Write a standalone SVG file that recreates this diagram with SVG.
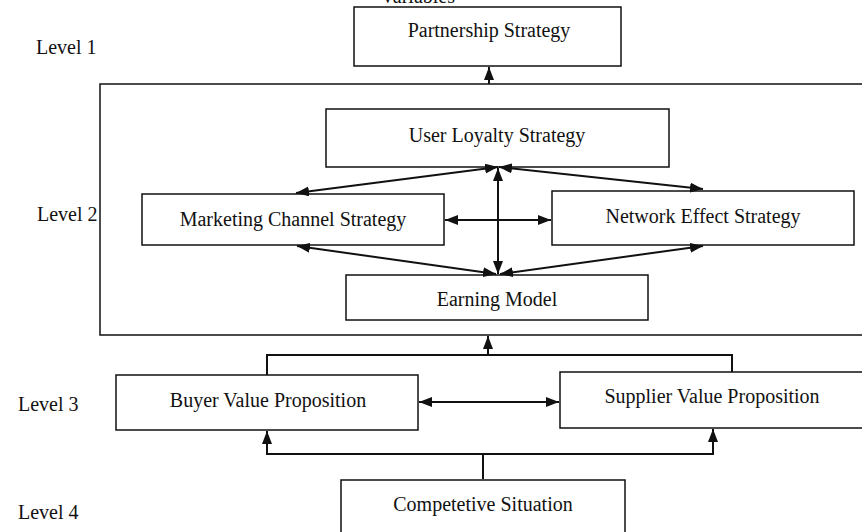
<svg xmlns="http://www.w3.org/2000/svg" width="862" height="532" viewBox="0 0 862 532">
<style>
text{font-family:"Liberation Serif","Times New Roman",serif;font-size:20px;fill:#111}
.box{fill:#fff;stroke:#111;stroke-width:1.5}
.c{fill:none;stroke:#111;stroke-width:2}
.m{text-anchor:middle}
</style>
<defs>
<marker id="ah" viewBox="0 0 13 10" refX="13" refY="5" markerWidth="13" markerHeight="10" markerUnits="userSpaceOnUse" orient="auto-start-reverse">
<path d="M0,0 L13,5 L0,10 z" fill="#111"/>
</marker>
</defs>
<rect width="862" height="532" fill="#fff"/>
<text x="455" y="3" text-anchor="end">Variables</text>
<g id="levels">
<text x="36" y="54">Level 1</text>
<text x="37" y="221">Level 2</text>
<text x="18" y="411">Level 3</text>
<text x="18" y="519">Level 4</text>
</g>
<g id="level2-frame"><rect class="box" x="100" y="84" width="790" height="251" fill="none"/></g>
<g id="partnership"><rect class="box" x="354" y="7" width="267" height="59"/><text class="m" x="489" y="37">Partnership Strategy</text></g>
<g id="loyalty"><rect class="box" x="326" y="109" width="343" height="58"/><text class="m" x="497" y="142">User Loyalty Strategy</text></g>
<g id="marketing"><rect class="box" x="142" y="194" width="302" height="51"/><text class="m" x="293" y="226">Marketing Channel Strategy</text></g>
<g id="network"><rect class="box" x="552" y="191" width="302" height="54"/><text class="m" x="703" y="223">Network Effect Strategy</text></g>
<g id="earning"><rect class="box" x="346" y="275" width="302" height="45"/><text class="m" x="497" y="306">Earning Model</text></g>
<g id="buyer"><rect class="box" x="116" y="375" width="302" height="55"/><text class="m" x="268" y="407">Buyer Value Proposition</text></g>
<g id="supplier"><rect class="box" x="560" y="372" width="330" height="56"/><text class="m" x="712" y="403">Supplier Value Proposition</text></g>
<g id="competetive"><rect class="box" x="341" y="480" width="284" height="60"/><text class="m" x="483" y="511">Competetive Situation</text></g>
<g id="connectors">
<line class="c" x1="489" y1="84" x2="489" y2="67" marker-end="url(#ah)"/>
<line class="c" x1="498" y1="167" x2="296" y2="193" marker-start="url(#ah)" marker-end="url(#ah)"/>
<line class="c" x1="499" y1="167" x2="703" y2="189" marker-start="url(#ah)" marker-end="url(#ah)"/>
<line class="c" x1="498" y1="168" x2="498" y2="274" marker-start="url(#ah)" marker-end="url(#ah)"/>
<line class="c" x1="445" y1="220" x2="551" y2="220" marker-start="url(#ah)" marker-end="url(#ah)"/>
<line class="c" x1="297" y1="246" x2="496" y2="274" marker-start="url(#ah)" marker-end="url(#ah)"/>
<line class="c" x1="703" y1="246" x2="500" y2="274" marker-start="url(#ah)" marker-end="url(#ah)"/>
<path class="c" d="M267,375 V355 H732 V372"/>
<line class="c" x1="488" y1="355" x2="488" y2="336" marker-end="url(#ah)"/>
<line class="c" x1="419" y1="402" x2="559" y2="402" marker-start="url(#ah)" marker-end="url(#ah)"/>
<path class="c" d="M483,479 V454"/>
<path class="c" d="M267,431 V454 H713 V429" marker-start="url(#ah)" marker-end="url(#ah)"/>
</g>
</svg>
